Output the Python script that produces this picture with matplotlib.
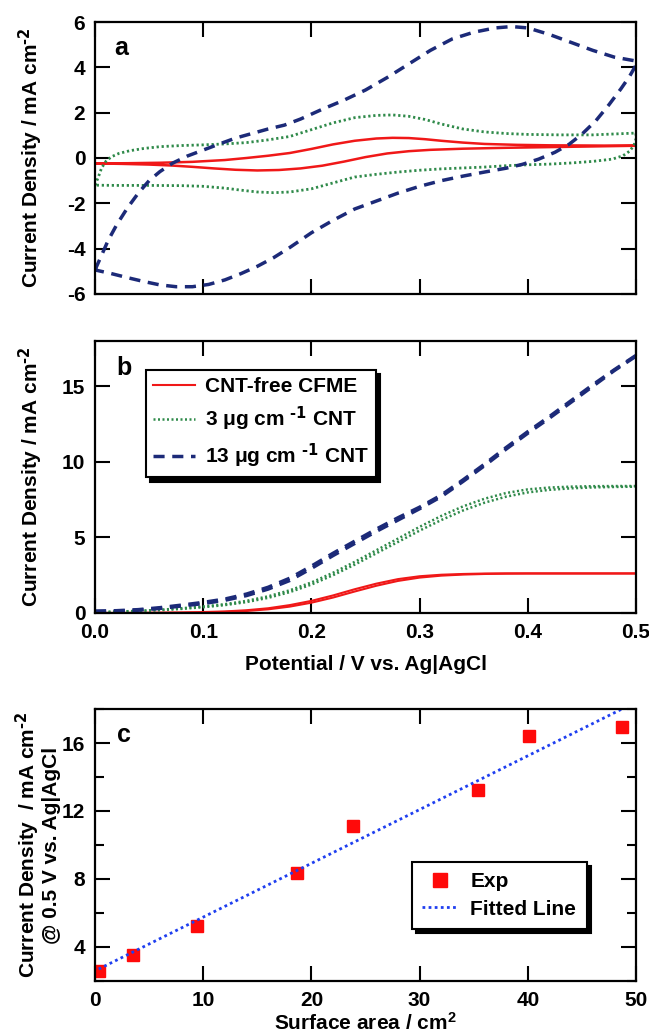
import numpy as np
import matplotlib
matplotlib.use("Agg")
import matplotlib.pyplot as plt
from matplotlib.ticker import MultipleLocator, FormatStrFormatter

plt.rcParams['font.family'] = ['Liberation Sans', 'DejaVu Sans']
plt.rcParams['font.weight'] = 'bold'
plt.rcParams['mathtext.default'] = 'regular'
plt.rcParams['axes.unicode_minus'] = False

# colours
RED = '#f01818'
GREEN = '#2f8a4a'
NAVY = '#1c2a78'
FITBLUE = '#1f3ff0'

# ---------------- panel a : cyclic voltammograms ----------------
cv_red_x = [0.000, 0.030, 0.060, 0.090, 0.120, 0.140, 0.160, 0.180, 0.200, 0.220, 0.240, 0.260, 0.275,
            0.290, 0.305, 0.320, 0.340, 0.360, 0.390, 0.420, 0.460, 0.500,
            0.500, 0.460, 0.420, 0.380, 0.340, 0.310, 0.290, 0.270, 0.250, 0.230, 0.210, 0.190, 0.170,
            0.150, 0.130, 0.110, 0.090, 0.070, 0.050, 0.025, 0.000]
cv_red_y = [-0.24, -0.23, -0.21, -0.17, -0.09, 0.00, 0.10, 0.22, 0.40, 0.60, 0.76, 0.86, 0.89,
            0.88, 0.83, 0.76, 0.68, 0.62, 0.58, 0.56, 0.55, 0.54,
            0.54, 0.51, 0.48, 0.45, 0.41, 0.36, 0.30, 0.20, 0.04, -0.16, -0.34, -0.46, -0.53,
            -0.55, -0.52, -0.46, -0.39, -0.33, -0.29, -0.26, -0.24]

cv_green_x = [0.000, 0.003, 0.006, 0.010, 0.015, 0.022, 0.032, 0.045, 0.060, 0.080, 0.100, 0.120, 0.140,
              0.160, 0.180, 0.200, 0.220, 0.240, 0.260, 0.275, 0.290, 0.305, 0.320, 0.340, 0.360,
              0.380, 0.400, 0.430, 0.460, 0.490, 0.500,
              0.500, 0.498, 0.494, 0.488, 0.478, 0.460, 0.440, 0.420, 0.400, 0.380, 0.360, 0.340,
              0.320, 0.300, 0.280, 0.260, 0.240, 0.220, 0.200, 0.180, 0.165, 0.150, 0.135, 0.120,
              0.100, 0.080, 0.050, 0.020, 0.000]
cv_green_y = [-1.20, -0.85, -0.45, -0.15, 0.05, 0.20, 0.32, 0.42, 0.50, 0.55, 0.58, 0.62, 0.68,
              0.80, 0.95, 1.25, 1.55, 1.78, 1.88, 1.90, 1.84, 1.70, 1.50, 1.28, 1.15,
              1.08, 1.04, 1.02, 1.02, 1.08, 1.10,
              0.85, 0.55, 0.30, 0.10, -0.05, -0.15, -0.22, -0.27, -0.30, -0.34, -0.40, -0.44,
              -0.48, -0.54, -0.62, -0.72, -0.84, -1.10, -1.36, -1.50, -1.53, -1.50, -1.42, -1.33,
              -1.25, -1.22, -1.21, -1.21, -1.20]

cv_blue_x = [0.000, 0.006, 0.012, 0.020, 0.030, 0.040, 0.050, 0.060, 0.072, 0.085, 0.100, 0.115, 0.130,
             0.145, 0.160, 0.175, 0.190, 0.210, 0.230, 0.250, 0.270, 0.290, 0.310, 0.330, 0.350,
             0.370, 0.385, 0.400, 0.420, 0.440, 0.460, 0.480, 0.500,
             0.500, 0.494, 0.486, 0.475, 0.463, 0.450, 0.438, 0.425, 0.410, 0.395, 0.380, 0.360,
             0.340, 0.320, 0.300, 0.280, 0.260, 0.240, 0.220, 0.200, 0.180, 0.165, 0.150, 0.135,
             0.120, 0.105, 0.090, 0.075, 0.060, 0.045, 0.030, 0.015, 0.000]
cv_blue_y = [-4.94, -4.30, -3.65, -2.95, -2.20, -1.55, -1.00, -0.60, -0.22, 0.08, 0.35, 0.62, 0.88,
             1.08, 1.28, 1.45, 1.72, 2.15, 2.55, 3.00, 3.55, 4.15, 4.75, 5.25, 5.55,
             5.74, 5.80, 5.74, 5.45, 5.10, 4.75, 4.45, 4.28,
             4.10, 3.60, 3.05, 2.35, 1.65, 1.05, 0.60, 0.25, -0.05, -0.28, -0.45, -0.62,
             -0.80, -1.00, -1.25, -1.55, -1.90, -2.25, -2.75, -3.30, -3.95, -4.40, -4.78, -5.10,
             -5.38, -5.58, -5.68, -5.68, -5.60, -5.45, -5.28, -5.10, -4.94]

# ---------------- panel b : linear sweeps (forward / reverse) ----------------
lsv_x = [0.00, 0.02, 0.04, 0.06, 0.08, 0.10, 0.12, 0.14, 0.16, 0.18, 0.20, 0.22, 0.24,
         0.26, 0.28, 0.30, 0.32, 0.34, 0.36, 0.38, 0.40, 0.42, 0.44, 0.46, 0.48, 0.50]
lsv_red_fwd = [0.00, 0.00, 0.00, 0.01, 0.02, 0.04, 0.07, 0.13, 0.24, 0.42, 0.68, 1.02, 1.42,
               1.80, 2.12, 2.34, 2.47, 2.54, 2.58, 2.60, 2.61, 2.61, 2.61, 2.61, 2.61, 2.61]
lsv_red_rev = [0.00, 0.00, 0.01, 0.02, 0.03, 0.06, 0.10, 0.18, 0.31, 0.52, 0.80, 1.16, 1.57,
               1.94, 2.24, 2.43, 2.53, 2.58, 2.61, 2.62, 2.62, 2.62, 2.62, 2.62, 2.62, 2.62]
lsv_green_fwd = [0.04, 0.08, 0.12, 0.18, 0.27, 0.38, 0.52, 0.72, 1.00, 1.38, 1.88, 2.50, 3.20,
                 3.95, 4.70, 5.45, 6.15, 6.78, 7.30, 7.70, 7.98, 8.15, 8.25, 8.31, 8.34, 8.36]
lsv_green_rev = [0.05, 0.09, 0.14, 0.21, 0.31, 0.43, 0.58, 0.80, 1.10, 1.50, 2.02, 2.66, 3.38,
                 4.15, 4.92, 5.70, 6.42, 7.05, 7.56, 7.94, 8.18, 8.30, 8.36, 8.39, 8.40, 8.40]
lsv_blue_fwd = [0.12, 0.15, 0.22, 0.35, 0.52, 0.70, 0.92, 1.25, 1.70, 2.30, 3.10, 3.95, 4.75,
                5.55, 6.30, 7.00, 7.80, 8.80, 9.85, 10.95, 12.00, 13.00, 14.05, 15.10, 16.10, 17.05]
lsv_blue_rev = [0.10, 0.12, 0.18, 0.30, 0.46, 0.62, 0.84, 1.15, 1.58, 2.15, 2.95, 3.80, 4.60,
                5.40, 6.15, 6.90, 7.70, 8.70, 9.75, 10.85, 11.90, 12.90, 13.95, 15.00, 16.05, 17.00]

legend_labels = ['CNT-free CFME', r'3 μg cm $^{\text{-1}}$ CNT', r'13 μg cm $^{\text{-1}}$ CNT']

# ---------------- panel c : current density vs surface area ----------------
area = [0.34, 3.5, 9.4, 18.7, 23.8, 35.4, 40.1, 48.7]
jd = [2.59, 3.53, 5.24, 8.33, 11.14, 13.24, 16.43, 16.96]
fit_x = [0.34, 48.7]
fit_y = [2.70, 18.0]

##############
### Figure ###
##############
fig = plt.figure(figsize=(6.49, 10.34), dpi=100)
L, W, H = 0.1464, 0.8336, 0.263
ax1 = fig.add_axes([L, 0.7157, W, H])
ax2 = fig.add_axes([L, 0.4072, W, H])
ax3 = fig.add_axes([L, 0.0513, W, H])

dash = (0, (3.2, 2.2))
dot = (0, (0.8, 1.0))
FS = 15
YLAB = r'Current Density / mA cm$^{\text{-2}}$'


def style(ax):
    for s in ax.spines.values():
        s.set_linewidth(1.6)
    ax.tick_params(which='major', direction='in', length=11, width=1.5,
                   top=True, right=True, labelsize=FS, pad=7)
    ax.tick_params(which='minor', direction='in', length=6.5, width=1.5,
                   top=True, right=True)
    for lab in ax.get_xticklabels() + ax.get_yticklabels():
        lab.set_fontweight('bold')


#Panel a
ax1.plot(cv_red_x, cv_red_y, color=RED, lw=1.8)
ax1.plot(cv_green_x, cv_green_y, color=GREEN, lw=2.0, linestyle=dot)
ax1.plot(cv_blue_x, cv_blue_y, color=NAVY, lw=2.5, linestyle=dash)
ax1.set_xlim(0, 0.5)
ax1.set_ylim(-6, 6)
ax1.xaxis.set_major_locator(MultipleLocator(0.1))
ax1.yaxis.set_major_locator(MultipleLocator(2))
ax1.set_xticklabels([])
style(ax1)
ax1.set_ylabel(YLAB, fontsize=FS, fontweight='bold')
ax1.yaxis.set_label_coords(-0.093, 0.5)
ax1.text(0.035, 0.905, 'a', transform=ax1.transAxes, fontsize=18, fontweight='bold', va='center')

#Panel b
l1, = ax2.plot(lsv_x, lsv_red_fwd, color=RED, lw=1.5)
ax2.plot(lsv_x, lsv_red_rev, color=RED, lw=1.5)
l2, = ax2.plot(lsv_x, lsv_green_fwd, color=GREEN, lw=1.8, linestyle=dot)
ax2.plot(lsv_x, lsv_green_rev, color=GREEN, lw=1.8, linestyle=dot)
l3, = ax2.plot(lsv_x, lsv_blue_fwd, color=NAVY, lw=2.5, linestyle=dash)
ax2.plot(lsv_x, lsv_blue_rev, color=NAVY, lw=2.5, linestyle=dash)
ax2.set_xlim(0, 0.5)
ax2.set_ylim(0, 18)
ax2.xaxis.set_major_locator(MultipleLocator(0.1))
ax2.yaxis.set_major_locator(MultipleLocator(5))
ax2.xaxis.set_major_formatter(FormatStrFormatter('%.1f'))
style(ax2)
ax2.set_ylabel(YLAB, fontsize=FS, fontweight='bold')
ax2.yaxis.set_label_coords(-0.093, 0.5)
ax2.set_xlabel('Potential / V vs. Ag|AgCl', fontsize=FS, fontweight='bold')
ax2.xaxis.set_label_coords(0.5, -0.155)
ax2.text(0.04, 0.9, 'b', transform=ax2.transAxes, fontsize=18, fontweight='bold', va='center')
leg = ax2.legend([l1, l2, l3], legend_labels, loc='upper left', bbox_to_anchor=(0.094, 0.893),
                 borderaxespad=0, fancybox=False, edgecolor='black', framealpha=1,
                 shadow={'color': 'black', 'alpha': 1, 'ox': 3, 'oy': -3},
                 prop={'size': FS, 'weight': 'bold'}, handlelength=2.0, borderpad=0.35,
                 labelspacing=0.4, handletextpad=0.5)
leg.get_frame().set_linewidth(1.5)

#Panel c
ax3.plot(area, jd, 's', color='#ff0a0a', ms=8, label='Exp')
ax3.plot(fit_x, fit_y, color=FITBLUE, lw=2.0, linestyle=(0, (1, 1.2)), label='Fitted Line')
ax3.set_xlim(0, 50)
ax3.set_ylim(2, 18)
ax3.xaxis.set_major_locator(MultipleLocator(10))
ax3.yaxis.set_major_locator(MultipleLocator(4))
ax3.yaxis.set_minor_locator(MultipleLocator(2))
style(ax3)
ax3.set_ylabel('Current Density  / mA cm$^{\\text{-2}}$\n@ 0.5 V vs. Ag|AgCl', fontsize=FS,
               fontweight='bold', linespacing=1.0)
ax3.yaxis.set_label_coords(-0.062, 0.5)
ax3.set_xlabel(r'Surface area / cm$^2$', fontsize=FS, fontweight='bold')
ax3.xaxis.set_label_coords(0.5, -0.112)
ax3.text(0.04, 0.905, 'c', transform=ax3.transAxes, fontsize=18, fontweight='bold', va='center')
leg3 = ax3.legend(loc='upper left', bbox_to_anchor=(0.586, 0.438), borderaxespad=0,
                  fancybox=False, edgecolor='black', framealpha=1,
                  shadow={'color': 'black', 'alpha': 1, 'ox': 3, 'oy': -3},
                  prop={'size': FS, 'weight': 'bold'}, markerscale=1.3, handlelength=1.7,
                  borderpad=0.5, labelspacing=0.4, handletextpad=0.6)
leg3.get_frame().set_linewidth(1.5)

fig.savefig('out.png', dpi=100)
